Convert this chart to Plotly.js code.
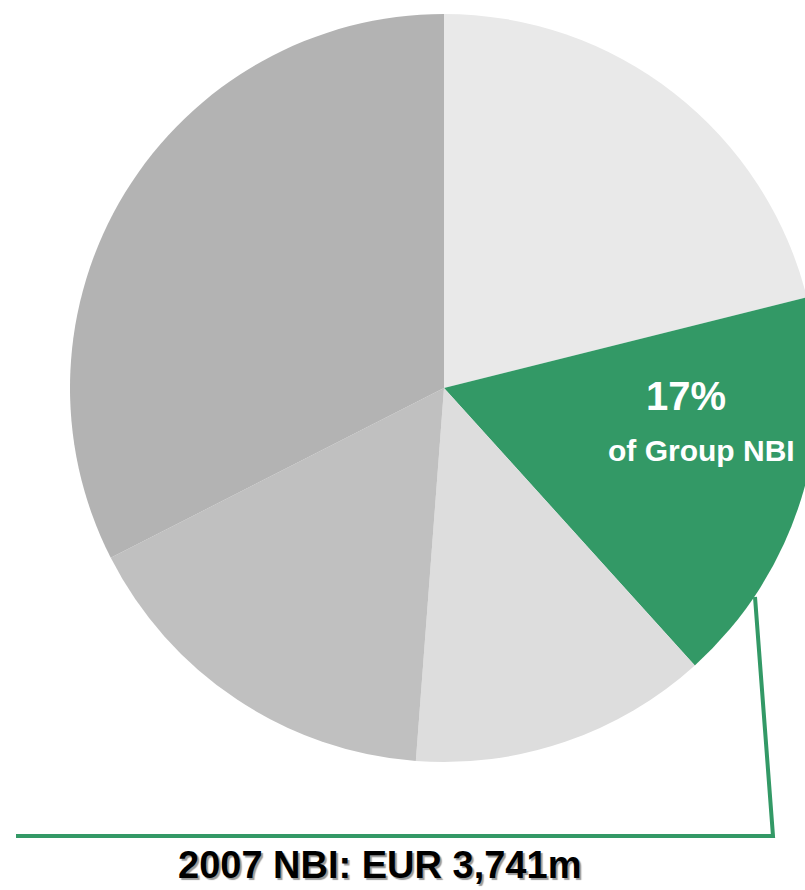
<!DOCTYPE html>
<html>
<head>
<meta charset="utf-8">
<script src="https://cdn.plot.ly/plotly-3.0.1.min.js"></script>
<style>
  html, body { margin: 0; padding: 0; background: #ffffff; overflow: hidden; width: 805px; height: 890px; }
  #chart { width: 888px; height: 890px; }
</style>
</head>
<body>
<div id="chart"></div>
<script>
// Data
var segmentLabels = ["Segment A", "Highlighted business", "Segment C", "Segment D", "Segment E"];
var segmentShares = [21.1, 17.2, 12.9, 16.3, 32.5];
var segmentColors = ["#e9e9e9", "#339966", "#dddddd", "#c0c0c0", "#b3b3b3"];
var highlightShareLabel = "17%";
var highlightCaption = "of Group NBI";
var chartTitle = "2007 NBI: EUR 3,741m";

var W = 888, H = 890;
function px(x) { return x / W; }
function py(y) { return 1 - y / H; }

var trace = {
  type: "pie",
  labels: segmentLabels,
  values: segmentShares,
  marker: { colors: segmentColors, line: { width: 0 } },
  sort: false,
  direction: "clockwise",
  rotation: 0,
  textinfo: "none",
  hoverinfo: "label+percent",
  showlegend: false,
  domain: { x: [0, 1], y: [py(762), py(14)] }
};

var layout = {
  width: W,
  height: H,
  margin: { l: 0, r: 0, t: 0, b: 0, pad: 0 },
  paper_bgcolor: "#ffffff",
  plot_bgcolor: "#ffffff",
  showlegend: false,
  font: { family: "Liberation Sans, Arial, sans-serif" },
  shapes: [
    {
      type: "path", xref: "paper", yref: "paper",
      path: "M " + px(755) + "," + py(597) + " L " + px(773) + "," + py(836) + " L " + px(16) + "," + py(836),
      line: { color: "#339966", width: 4 },
      fillcolor: "rgba(0,0,0,0)"
    }
  ],
  annotations: [
    {
      xref: "paper", yref: "paper", x: px(686), y: py(396),
      xanchor: "center", yanchor: "middle", showarrow: false,
      text: "<b>" + highlightShareLabel + "</b>",
      font: { family: "Liberation Sans, Arial, sans-serif", size: 40, color: "#ffffff" }
    },
    {
      xref: "paper", yref: "paper", x: px(701), y: py(450),
      xanchor: "center", yanchor: "middle", showarrow: false,
      text: "<b>" + highlightCaption + "</b>",
      font: { family: "Liberation Sans, Arial, sans-serif", size: 30, color: "#ffffff" }
    },
    {
      xref: "paper", yref: "paper", x: px(379), y: py(865),
      xanchor: "center", yanchor: "middle", showarrow: false,
      text: "<b>" + chartTitle + "</b>",
      font: { family: "Liberation Sans, Arial, sans-serif", size: 38, color: "#000000",
              shadow: "2px 2px 1px #9a9a9a" }
    }
  ]
};

Plotly.newPlot("chart", [trace], layout, { displayModeBar: false, staticPlot: true });
</script>
</body>
</html>
